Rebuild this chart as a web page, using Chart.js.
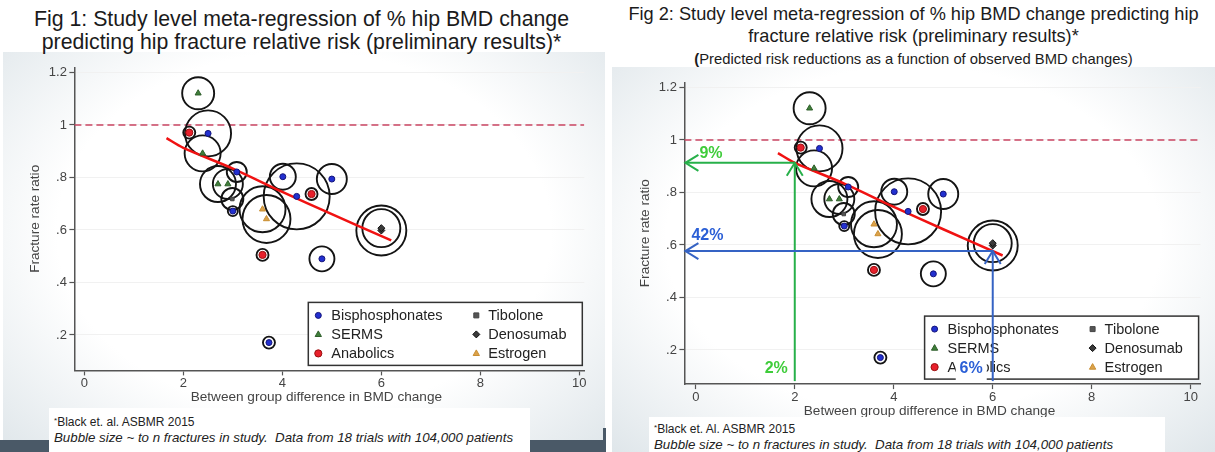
<!DOCTYPE html>
<html lang="en">
<head>
<meta charset="UTF-8" />
<title>Hip BMD change vs hip fracture relative risk</title>
<style>
  body { margin: 0; width: 1215px; height: 452px; position: relative; overflow: hidden; background: #fff;
         font-family: "Liberation Sans", Arial, sans-serif; }
  .title { position: absolute; text-align: center; color: #1b1b1b; }
  #title1 { left: 0; top: 8px; width: 603px; font-size: 21.3px; line-height: 23px; }
  #title2 { left: 612px; top: 3px; width: 603px; font-size: 18.2px; line-height: 22px; }
  #title2 .sub { font-size: 14.8px; line-height: 18px; }
  .panel { position: absolute; background: radial-gradient(ellipse at 50% 45%, #ffffff 58%, #dfe6ea 100%); }
  #panel1 { left: 3px; top: 52px; width: 602px; height: 400px; }
  #panel2 { left: 612px; top: 67px; width: 603px; height: 385px; }
  .box { position: absolute; }
  #box1 { left: 0; top: 52px; width: 605px; height: 380px; }
  #box2 { left: 612px; top: 67px; width: 603px; height: 385px; }
  .note { position: absolute; background: #fff; font-size: 12px; line-height: 14px; color: #222;
          padding: 6px 0 0 5px; box-sizing: border-box; }
  .note sup { font-size: 8px; vertical-align: 3px; }
  .note i { display: block; margin-top: 1px; font-size: 13.3px; line-height: 16px; }
  #note1 { left: 49px; top: 408px; width: 481px; height: 44px; }
  #note2 { left: 649px; top: 417px; width: 516px; height: 35px; padding-top: 4px; }
  .dark { position: absolute; background: #4a5967; }
</style>
<script src="https://cdn.jsdelivr.net/npm/chart.js"></script>
</head>
<body>
  <div id="panel1" class="panel"></div>
  <div id="panel2" class="panel"></div>

  <div id="title1" class="title">Fig 1: Study level meta-regression of % hip BMD change<br>predicting hip fracture relative risk (preliminary results)*</div>
  <div id="title2" class="title">Fig 2: Study level meta-regression of % hip BMD change predicting hip<br>fracture relative risk (preliminary results)*<br><span class="sub"><b>(</b>Predicted risk reductions as a function of observed BMD changes)</span></div>

  <div id="box1" class="box"><canvas id="chart1"></canvas></div>
  <div id="box2" class="box"><canvas id="chart2"></canvas></div>

  <div id="note1" class="note"><sup>*</sup>Black et. al. ASBMR 2015<i>Bubble size ~ to n fractures in study.&nbsp; Data from 18 trials with 104,000 patients</i></div>
  <div id="note2" class="note"><sup>*</sup>Black et. Al. ASBMR 2015<i>Bubble size ~ to n fractures in study.&nbsp; Data from 18 trials with 104,000 patients</i></div>

  <div class="dark" style="left:0;top:440px;width:49px;height:12px"></div>
  <div class="dark" style="left:530px;top:440px;width:76px;height:12px"></div>
  <div class="dark" style="left:603px;top:428px;width:3px;height:24px"></div>

<script>
  // study points (x = between group difference in BMD change, y = fracture rate ratio)
  // bubble radius ~ number of fractures in the study
  const bisX = [2.50, 3.08, 3.00, 4.01, 4.29, 5.00, 4.80, 3.73];
  const bisY = [0.968, 0.821, 0.672, 0.803, 0.728, 0.794, 0.490, 0.171];
  const bisR = [23, 10, 5, 13, 33, 15, 12.5, 6];

  const sermX = [2.30, 2.39, 2.70, 2.90];
  const sermY = [1.121, 0.892, 0.775, 0.775];
  const sermR = [16, 18, 18, 15];

  const anaX = [2.12, 4.59, 3.60];
  const anaY = [0.971, 0.737, 0.505];
  const anaR = [6, 6, 6];

  const tibX = [2.99];
  const tibY = [0.718];
  const tibR = [11];

  const denoX = [6.0, 6.0];
  const denoY = [0.598, 0.607];
  const denoR = [25, 19];

  const estX = [3.60, 3.68];
  const estY = [0.679, 0.642];
  const estR = [23, 24];

  // fitted meta-regression line
  const fitX = [1.66, 2, 3, 4, 5, 6.2];
  const fitY = [0.95, 0.913, 0.834, 0.745, 0.66, 0.56];

  // axes
  const xTicks = [0, 2, 4, 6, 8, 10];
  const yTicks = [0.2, 0.4, 0.6, 0.8, 1, 1.2];
  const yTickLabels = [".2", ".4", ".6", ".8", "1", "1.2"];
  const xTitle = "Between group difference in BMD change";
  const refLineY = 1;

  // Fig 2 read-offs: BMD change -> predicted ratio
  const readX = [2, 6];
  const readY = [0.913, 0.577];
  const readXLabels = ["2%", "6%"];
  const readYLabels = ["9%", "42%"];

  const series = [
    { name: "Bisphosphonates", x: bisX, y: bisY, r: bisR, style: "circle", size: 3, fill: "#2230d0", edge: "#14147a" },
    { name: "SERMS", x: sermX, y: sermY, r: sermR, style: "triangle", size: 3.5, fill: "#3f7f3a", edge: "#2e5e2a" },
    { name: "Anabolics", x: anaX, y: anaY, r: anaR, style: "circle", size: 3.6, fill: "#e8202c", edge: "#9a1010" },
    { name: "Tibolone", x: tibX, y: tibY, r: tibR, style: "rect", size: 2.5, fill: "#555555", edge: "#444444" },
    { name: "Denosumab", x: denoX, y: denoY, r: denoR, style: "rectRot", size: 3.5, fill: "#3a3a3a", edge: "#111111" },
    { name: "Estrogen", x: estX, y: estY, r: estR, style: "triangle", size: 3.5, fill: "#dba24a", edge: "#c98e32" }
  ];

  function drawMarker(ctx, s, x, y) {
    const r = s.size;
    ctx.beginPath();
    if (s.style === "circle") ctx.arc(x, y, r, 0, Math.PI * 2);
    else if (s.style === "triangle") {
      ctx.moveTo(x, y - r); ctx.lineTo(x + r * 0.9, y + r * 0.6); ctx.lineTo(x - r * 0.9, y + r * 0.6); ctx.closePath();
    } else if (s.style === "rect") ctx.rect(x - r, y - r, r * 2, r * 2);
    else { ctx.moveTo(x, y - r); ctx.lineTo(x + r, y); ctx.lineTo(x, y + r); ctx.lineTo(x - r, y); ctx.closePath(); }
    ctx.fillStyle = s.fill; ctx.fill();
    ctx.strokeStyle = s.edge; ctx.lineWidth = 1; ctx.stroke();
  }

  function arrow(ctx, x1, y1, x2, y2, color) {
    const a = Math.atan2(y2 - y1, x2 - x1);
    ctx.save();
    ctx.strokeStyle = color; ctx.lineWidth = 2;
    ctx.beginPath(); ctx.moveTo(x1, y1); ctx.lineTo(x2, y2); ctx.stroke();
    ctx.beginPath();
    ctx.moveTo(x2 - 13 * Math.cos(a) + 8 * Math.sin(a), y2 - 13 * Math.sin(a) - 8 * Math.cos(a));
    ctx.lineTo(x2, y2);
    ctx.lineTo(x2 - 13 * Math.cos(a) - 8 * Math.sin(a), y2 - 13 * Math.sin(a) + 8 * Math.cos(a));
    ctx.stroke();
    ctx.restore();
  }

  // legend box inside the plot, bottom right (Stata style), plus x axis title
  const legendPlugin = {
    id: "boxLegend",
    afterDatasetsDraw(chart) {
      const ctx = chart.ctx, area = chart.chartArea;
      const w = 274, h = 63;
      const left = area.right - 2 - w, top = area.bottom - 5 - h;
      ctx.save();
      ctx.fillStyle = "#ffffff";
      ctx.fillRect(left, top, w, h);
      ctx.strokeStyle = "#333"; ctx.lineWidth = 1.5;
      ctx.strokeRect(left, top, w, h);
      ctx.font = "14.5px 'Liberation Sans', Arial, sans-serif";
      ctx.textBaseline = "middle";
      series.forEach((s, i) => {
        const col = Math.floor(i / 3), row = i % 3;
        const y = top + 13 + row * 19;
        drawMarker(ctx, s, left + (col ? 168 : 10), y);
        ctx.fillStyle = "#222";
        ctx.fillText(s.name, left + (col ? 180 : 23), y + 1);
      });
      // axis title sits a little left of the plot centre
      ctx.font = "13.6px 'Liberation Sans', Arial, sans-serif";
      ctx.fillStyle = "#444";
      ctx.textAlign = "center";
      ctx.fillText(xTitle, (area.left + area.right) / 2 - 13, area.bottom + 27);
      ctx.restore();
    }
  };

  // arrows and percentages of Fig 2
  const readOffPlugin = {
    id: "readOff",
    afterDraw(chart) {
      const ctx = chart.ctx, area = chart.chartArea;
      const xs = chart.scales.x, ys = chart.scales.y;
      const colors = [["#27b04a", "#3fcc3a"], ["#3563c4", "#2b5fd6"]];
      ctx.save();
      readX.forEach((v, i) => {
        const px = xs.getPixelForValue(v), py = ys.getPixelForValue(readY[i]);
        const bottom = area.bottom - 3, left = area.left + 1;
        arrow(ctx, px, bottom, px, py, colors[i][0]);
        arrow(ctx, px, py, left, py, colors[i][0]);
        ctx.font = "bold 16px 'Liberation Sans', Arial, sans-serif";
        ctx.textBaseline = "alphabetic";
        ctx.fillStyle = colors[i][1];
        ctx.textAlign = "left";
        ctx.fillText(readYLabels[i], i === 0 ? left + 14 : left + 6, i === 0 ? py - 5 : py - 11);
        ctx.textAlign = "right";
        if (i === 1) {
          ctx.fillStyle = "#fff";
          ctx.fillRect(px - 37, area.bottom - 27, 31, 23);
          ctx.fillStyle = colors[i][1];
        }
        ctx.fillText(readXLabels[i], i === 0 ? px - 7 : px - 10, area.bottom - 11);
      });
      ctx.restore();
    }
  };

  function makeChart(id, cfg) {
    const datasets = [];
    series.forEach(s => datasets.push({
      type: "scatter", label: s.name,
      data: s.x.map((x, i) => ({ x: x, y: s.y[i] })),
      pointStyle: s.style, pointRadius: s.size,
      pointBackgroundColor: s.fill, pointBorderColor: s.edge, pointBorderWidth: 1,
      order: 0
    }));
    datasets.push({
      type: "line", label: "fit",
      data: fitX.map((x, i) => ({ x: x, y: fitY[i] })),
      borderColor: "#f01212", borderWidth: 2.5, pointRadius: 0, tension: 0.3, order: 1
    });
    series.forEach(s => datasets.push({
      type: "bubble", label: s.name + " n",
      data: s.x.map((x, i) => ({ x: x, y: s.y[i], r: s.r[i] })),
      borderColor: "#141414", borderWidth: 1.9, backgroundColor: "rgba(0,0,0,0)", order: 2
    }));
    datasets.push({
      type: "line", label: "no effect",
      data: [{ x: cfg.xMin, y: refLineY }, { x: cfg.xMax, y: refLineY }],
      borderColor: "#c94462", borderWidth: 1.3, borderDash: [7, 4], pointRadius: 0, order: 3
    });

    const tickFont = { family: "'Liberation Sans', Arial, sans-serif", size: 13 };
    return new Chart(document.getElementById(id), {
      type: "scatter",
      data: { datasets: datasets },
      options: {
        responsive: true,
        maintainAspectRatio: false,
        animation: false,
        events: [],
        layout: { autoPadding: false, padding: { left: 0, right: cfg.padRight, top: 15.25, bottom: 0 } },
        plugins: { legend: { display: false }, tooltip: { enabled: false } },
        scales: {
          x: {
            type: "linear", min: cfg.xMin, max: cfg.xMax,
            afterBuildTicks: s => { s.ticks = xTicks.map(v => ({ value: v })); },
            afterFit: s => { s.height = cfg.xHeight; },
            ticks: { color: "#444", font: tickFont, padding: cfg.xTickPad, maxRotation: 0, autoSkip: false,
                     callback: (v, i) => String(xTicks[i]) },
            grid: { drawOnChartArea: false, tickLength: 5, tickColor: "#555", tickWidth: 1.2 },
            border: { color: "#555", width: 1.5 },
            title: { display: false }
          },
          y: {
            min: cfg.yMin, max: 1.22,
            afterBuildTicks: s => { s.ticks = yTicks.map(v => ({ value: v })); },
            afterFit: s => { s.width = cfg.yWidth; },
            ticks: { color: "#444", font: tickFont, padding: 2.5, callback: (v, i) => yTickLabels[i] },
            grid: { color: "#f1f1f1", tickLength: 5, tickColor: "#555", tickWidth: 1.2 },
            border: { color: "#555", width: 1.5 },
            title: { display: true, text: "Fracture rate ratio", color: "#444",
                     font: { family: "'Liberation Sans', Arial, sans-serif", size: 13.6 },
                     padding: { top: cfg.yTitlePad, bottom: 0 } }
          }
        }
      },
      plugins: cfg.readOff ? [legendPlugin, readOffPlugin] : [legendPlugin]
    });
  }

  makeChart("chart1", { xMin: -0.2, xMax: 10.1, yMin: 0.065, padRight: 20.7, xHeight: 61.6,
                        yWidth: 74.4, xTickPad: 0, yTitlePad: 27, readOff: false });
  makeChart("chart2", { xMin: -0.23, xMax: 10.2, yMin: 0.07, padRight: 14.4, xHeight: 67.9,
                        yWidth: 72.4, xTickPad: 1, yTitlePad: 25, readOff: true });
</script>
</body>
</html>
